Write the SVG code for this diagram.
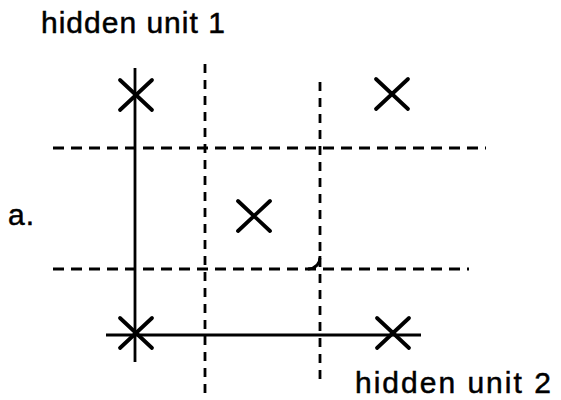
<svg xmlns="http://www.w3.org/2000/svg" width="561" height="400" viewBox="0 0 561 400">
<defs>
<style>
.t{font-family:"Liberation Sans",Arial,sans-serif;font-size:30px;fill:#000;stroke:#000;stroke-width:0.5;letter-spacing:1px}
.t2{letter-spacing:2px}
.solid{stroke:#000;stroke-width:2.8;fill:none}
.dh{stroke:#000;stroke-width:2.8;fill:none;stroke-dasharray:11 7}
.dv{stroke:#000;stroke-width:2.8;fill:none;stroke-dasharray:9 7}
.x{stroke:#000;stroke-width:3.8;stroke-linecap:round;fill:none}
</style>
<path id="xm" class="x" d="M-16,-15 L16,15 M-16,15 L16,-15"/>
</defs>
<rect width="561" height="400" fill="#fff"/>
<text class="t" x="41" y="33">hidden unit 1</text>
<text class="t t2" x="355" y="393">hidden unit 2</text>
<text class="t" x="8" y="225">a.</text>
<g id="connectors">
<line class="dh" x1="53" y1="148" x2="486" y2="148"/>
<line class="dh" x1="53" y1="269" x2="469" y2="269"/>
<line class="dv" x1="205" y1="64" x2="205" y2="398"/>
<line class="dv" x1="320" y1="82" x2="320" y2="386"/>
<path class="solid" d="M320,256 Q320,268 308,269"/>
<line class="solid" x1="135" y1="68" x2="135" y2="362"/>
<line class="solid" x1="106" y1="335" x2="421" y2="335"/>
</g>
<g id="node1"><use href="#xm" x="136" y="95"/></g>
<g id="node2"><use href="#xm" x="392" y="94"/></g>
<g id="node3"><use href="#xm" x="254" y="216"/></g>
<g id="node4"><use href="#xm" x="136" y="333"/></g>
<g id="node5"><use href="#xm" x="393" y="333"/></g>
</svg>
